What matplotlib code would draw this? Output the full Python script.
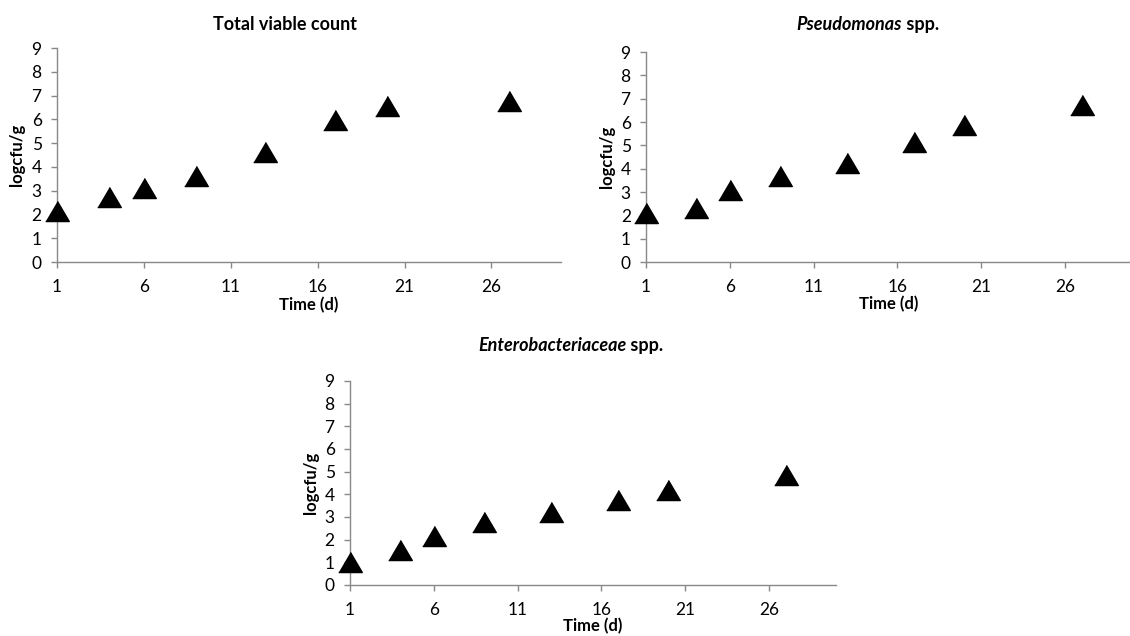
import numpy as np
import matplotlib
matplotlib.use('Agg')
import matplotlib.pyplot as plt

plt.rcParams['font.family'] = ['Lato', 'DejaVu Sans']

# sampling days and counts (log cfu/g)
days = [1, 4, 6, 9, 13, 17, 20, 27]
tvc = [2.15, 2.73, 3.10, 3.60, 4.63, 5.96, 6.58, 6.76]
pseudo = [2.11, 2.32, 3.07, 3.69, 4.26, 5.15, 5.87, 6.73]
entero = [1.00, 1.56, 2.17, 2.78, 3.23, 3.74, 4.19, 4.83]

x_ticks = [1, 6, 11, 16, 21, 26]
y_ticks = list(range(0, 10))
axis_grey = '#898989'
tri = [(-1, -0.85), (1, -0.85), (0, 0.85)]  # wider triangle, like Excel

fig = plt.figure(figsize=(11.3, 6.36), dpi=100, facecolor='white')

def make_panel(rect, values):
    ax = fig.add_axes(rect)
    ax.plot(days, values, linestyle='none', marker=tri, markersize=17,
            color='black', clip_on=False, zorder=3)
    ax.set_xlim(1, 30)
    ax.set_ylim(0, 9)
    ax.set_xticks(x_ticks)
    ax.set_yticks(y_ticks)
    for s in ['top', 'right']:
        ax.spines[s].set_visible(False)
    for s in ['left', 'bottom']:
        ax.spines[s].set_color(axis_grey)
        ax.spines[s].set_linewidth(1.0)
    ax.tick_params(axis='both', direction='out', length=4, width=1.0,
                   color=axis_grey, labelsize=12.5, labelcolor='black')
    ax.tick_params(axis='x', pad=8)
    ax.tick_params(axis='y', pad=7)
    ax.text(0.5, -0.2, 'Time (d)', transform=ax.transAxes, ha='center',
            va='center', fontsize=12, fontweight='bold')
    ax.text(-0.08, 0.5, 'logcfu/g', transform=ax.transAxes, ha='center',
            va='center', rotation=90, fontsize=12, fontweight='bold')
    return ax

ax1 = make_panel([0.0504, 0.588, 0.446, 0.3365], tvc)
ax2 = make_panel([0.5717, 0.588, 0.430, 0.330], pseudo)
ax3 = make_panel([0.3097, 0.0802, 0.430, 0.321], entero)

# titles: italic genus + upright "spp."
def title(xc, yc, italic_part, plain_part):
    t1 = fig.text(xc, yc, italic_part, ha='left', va='center', fontsize=13,
                  fontweight='bold', fontstyle='italic' if plain_part else 'normal')
    parts = [t1]
    if plain_part:
        t2 = fig.text(0, 0, plain_part, ha='left', va='baseline', fontsize=13,
                      fontweight='bold')
        parts.append(t2)
    return parts

titles = [
    (0.252, 0.962, 'Total viable count', ''),
    (0.768, 0.962, 'Pseudomonas', ' spp.'),
    (0.505, 0.456, 'Enterobacteriaceae', ' spp.'),
]
made = [title(*t) for t in titles]
fig.canvas.draw()
r = fig.canvas.get_renderer()
for (xc, yc, a, b), parts in zip(titles, made):
    bb1 = parts[0].get_window_extent(r)
    w = bb1.width
    if len(parts) > 1:
        w += parts[1].get_window_extent(r).width
    x0 = xc * fig.bbox.width - w / 2
    parts[0].set_position((x0 / fig.bbox.width, yc))
    fig.canvas.draw()
    bb1 = parts[0].get_window_extent(r)
    if len(parts) > 1:
        # baseline of first text
        base = bb1.y0 + parts[0]._get_layout(r)[2]
        parts[1].set_position((bb1.x1 / fig.bbox.width, base / fig.bbox.height))

plt.savefig('out.png', dpi=100, facecolor='white')
